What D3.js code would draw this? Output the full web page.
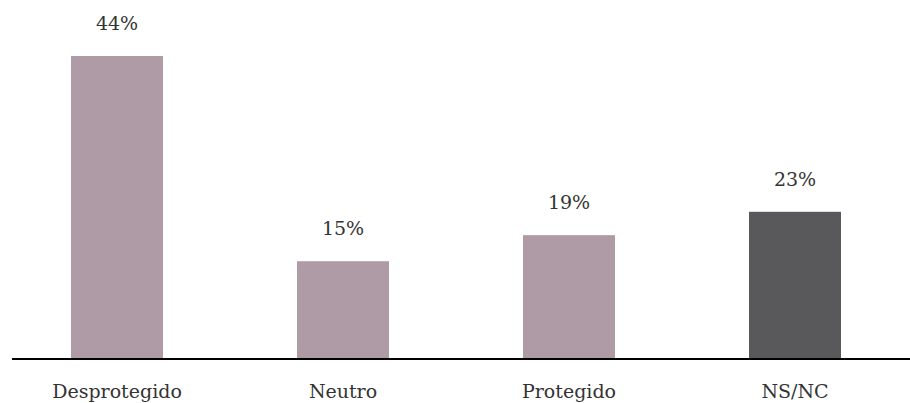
<!DOCTYPE html>
<html>
<head>
<meta charset="utf-8">
<script src="https://cdn.jsdelivr.net/npm/d3@7"></script>
<style>
  html, body { margin: 0; padding: 0; background: #ffffff; }
  svg { display: block; }
  text { font-family: "DejaVu Serif", "Liberation Serif", serif; }
</style>
</head>
<body>
<svg id="chart" width="910" height="403"></svg>
<script>
// Data
const categories = ["Desprotegido", "Neutro", "Protegido", "NS/NC"];
const values = [44, 14.1, 17.9, 21.3];          // bar heights as drawn
const valueLabels = ["44%", "15%", "19%", "23%"]; // printed labels
const barColors = ["#af9ba6", "#af9ba6", "#af9ba6", "#59595b"];

const width = 910, height = 403;
const baseline = 358;

const svg = d3.select("#chart");

const x = d3.scaleBand()
  .domain(categories)
  .range([4, 908])
  .paddingInner(0.593)
  .paddingOuter(0.2965);

const y = d3.scaleLinear()
  .domain([0, 44])
  .range([baseline, 56]);

const data = categories.map((c, i) => ({ c, v: values[i], label: valueLabels[i], color: barColors[i] }));

svg.selectAll("rect.bar")
  .data(data)
  .join("rect")
  .attr("class", "bar")
  .attr("x", d => x(d.c))
  .attr("width", x.bandwidth())
  .attr("y", d => y(d.v))
  .attr("height", d => baseline - y(d.v))
  .attr("fill", d => d.color);

svg.selectAll("text.val")
  .data(data)
  .join("text")
  .attr("class", "val")
  .attr("x", d => x(d.c) + x.bandwidth() / 2)
  .attr("y", d => y(d.v) - 26)
  .attr("text-anchor", "middle")
  .attr("font-size", 19)
  .attr("fill", "#333")
  .text(d => d.label);

// x axis
const xAxis = d3.axisBottom(x).tickSize(0).tickPadding(26);
const gx = svg.append("g")
  .attr("transform", `translate(0,${baseline + 1})`)
  .call(xAxis);
gx.select(".domain").remove();
gx.selectAll("text")
  .attr("font-size", 19)
  .attr("fill", "#333")
  .style("font-family", '"DejaVu Serif", "Liberation Serif", serif');

svg.append("line")
  .attr("x1", 12).attr("x2", 910)
  .attr("y1", baseline + 1).attr("y2", baseline + 1)
  .attr("stroke", "#000")
  .attr("stroke-width", 2);
</script>
</body>
</html>
